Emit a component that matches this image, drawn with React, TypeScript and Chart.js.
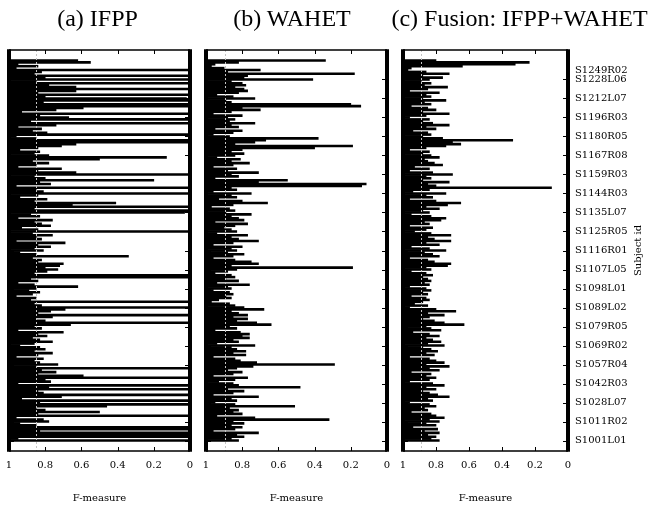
import React, { useEffect, useRef } from 'react';
import { Chart, registerables } from 'chart.js';

Chart.register(...registerables);

// Subject tick labels (top to bottom) and the bar index each one sits on
const subjectTickLabels = [
  'S1249R02', 'S1228L06', 'S1212L07', 'S1196R03', 'S1180R05', 'S1167R08', 'S1159R03',
  'S1144R03', 'S1135L07', 'S1125R05', 'S1116R01', 'S1107L05', 'S1098L01', 'S1089L02',
  'S1079R05', 'S1069R02', 'S1057R04', 'S1042R03', 'S1028L07', 'S1011R02', 'S1001L01',
];
const subjectTickIndex = [5, 10, 20, 30, 40, 50, 60, 70, 80, 90, 100, 110, 120, 130, 140, 150, 160, 170, 180, 190, 200];

const fMeasureTicks = [0, 0.2, 0.4, 0.6, 0.8, 1];
const fMeasureTickLabels = ['0', '0.2', '0.4', '0.6', '0.8', '1'];

const panelTitles = ['(a) IFPP', '(b) WAHET', '(c) Fusion: IFPP+WAHET'];
const axisTitleX = 'F-measure';
const axisTitleY = 'Subject id';

// F-measure per subject image, listed from the top of the plot (S1249) down to S1001
const ifppValues = [
  0.62, 0.55, 0.95, 0.84, 0.96, 0.00, 0.82, 0.86, 0.00, 0.80,
  0.00, 0.85, 0.00, 0.78, 0.63, 0.00, 0.63, 0.84, 0.00, 0.80,
  0.02, 0.00, 0.81, 0.00, 0.00, 0.59, 0.74, 0.93, 0.00, 0.83,
  0.67, 0.00, 0.88, 0.00, 0.74, 0.95, 0.82, 0.87, 0.79, 0.00,
  0.96, 0.85, 0.00, 0.00, 0.63, 0.71, 0.84, 0.94, 0.83, 0.86,
  0.78, 0.13, 0.50, 0.87, 0.78, 0.85, 0.95, 0.71, 0.84, 0.63,
  0.00, 0.86, 0.80, 0.20, 0.83, 0.77, 0.96, 0.00, 0.85, 0.81,
  0.00, 0.84, 0.94, 0.79, 0.86, 0.41, 0.65, 0.00, 0.86, 0.00,
  0.03, 0.88, 0.83, 0.95, 0.76, 0.86, 0.82, 0.77, 0.93, 0.84,
  0.00, 0.87, 0.76, 0.85, 0.82, 0.96, 0.69, 0.84, 0.77, 0.86,
  0.81, 0.94, 0.85, 0.34, 0.87, 0.82, 0.84, 0.70, 0.72, 0.80,
  0.73, 0.79, 0.86, 0.00, 0.00, 0.88, 0.84, 0.95, 0.86, 0.62,
  0.85, 0.89, 0.83, 0.87, 0.96, 0.85, 0.88, 0.00, 0.86, 0.82,
  0.00, 0.69, 0.77, 0.84, 0.00, 0.76, 0.85, 0.80, 0.00, 0.66,
  0.86, 0.82, 0.95, 0.70, 0.84, 0.79, 0.87, 0.83, 0.76, 0.86,
  0.94, 0.83, 0.80, 0.86, 0.76, 0.84, 0.96, 0.81, 0.86, 0.83,
  0.73, 0.85, 0.00, 0.82, 0.74, 0.84, 0.59, 0.00, 0.80, 0.77,
  0.95, 0.00, 0.78, 0.00, 0.84, 0.81, 0.00, 0.71, 0.93, 0.00,
  0.83, 0.00, 0.46, 0.85, 0.80, 0.50, 0.84, 0.00, 0.96, 0.81,
  0.78, 0.94, 0.85, 0.00, 0.00, 0.83, 0.00, 0.00, 0.00, 0.95,
  0.00,
];

const wahetValues = [
  0.34, 0.82, 0.95, 0.97, 0.90, 0.70, 0.88, 0.18, 0.77, 0.79,
  0.41, 0.86, 0.80, 0.78, 0.84, 0.79, 0.77, 0.82, 0.94, 0.85,
  0.73, 0.89, 0.86, 0.20, 0.145, 0.80, 0.70, 0.86, 0.96, 0.80,
  0.88, 0.84, 0.87, 0.73, 0.86, 0.82, 0.95, 0.80, 0.85, 0.96,
  0.87, 0.38, 0.67, 0.73, 0.84, 0.19, 0.40, 0.80, 0.86, 0.79,
  0.84, 0.94, 0.81, 0.86, 0.76, 0.85, 0.96, 0.83, 0.88, 0.71,
  0.86, 0.82, 0.95, 0.55, 0.71, 0.115, 0.14, 0.86, 0.83, 0.96,
  0.75, 0.86, 0.83, 0.93, 0.80, 0.66, 0.85, 0.97, 0.87, 0.84,
  0.89, 0.75, 0.86, 0.82, 0.79, 0.95, 0.77, 0.84, 0.90, 0.86,
  0.83, 0.94, 0.77, 0.86, 0.82, 0.71, 0.85, 0.96, 0.80, 0.86,
  0.83, 0.88, 0.79, 0.85, 0.96, 0.84, 0.75, 0.71, 0.86, 0.19,
  0.83, 0.88, 0.95, 0.86, 0.84, 0.89, 0.82, 0.94, 0.76, 0.88,
  0.86, 0.96, 0.87, 0.85, 0.89, 0.86, 0.93, 0.97, 0.87, 0.84,
  0.79, 0.68, 0.86, 0.82, 0.77, 0.85, 0.77, 0.83, 0.72, 0.64,
  0.87, 0.83, 0.95, 0.81, 0.76, 0.80, 0.76, 0.85, 0.82, 0.94,
  0.73, 0.86, 0.83, 0.78, 0.85, 0.78, 0.96, 0.84, 0.81, 0.72,
  0.29, 0.74, 0.83, 0.88, 0.80, 0.85, 0.96, 0.77, 0.84, 0.93,
  0.85, 0.82, 0.48, 0.88, 0.79, 0.85, 0.96, 0.71, 0.86, 0.83,
  0.95, 0.84, 0.51, 0.87, 0.82, 0.85, 0.80, 0.94, 0.73, 0.32,
  0.85, 0.79, 0.86, 0.80, 0.84, 0.96, 0.71, 0.83, 0.79, 0.86,
  0.82,
];

const fusionValues = [
  0.80, 0.235, 0.32, 0.64, 0.95, 0.97, 0.86, 0.72, 0.88, 0.76,
  0.84, 0.89, 0.83, 0.87, 0.73, 0.85, 0.96, 0.78, 0.86, 0.83,
  0.88, 0.74, 0.87, 0.83, 0.95, 0.85, 0.80, 0.88, 0.72, 0.86,
  0.96, 0.84, 0.88, 0.82, 0.72, 0.86, 0.80, 0.94, 0.85, 0.83,
  0.88, 0.76, 0.335, 0.70, 0.65, 0.74, 0.86, 0.96, 0.84, 0.88,
  0.83, 0.78, 0.87, 0.85, 0.81, 0.76, 0.93, 0.84, 0.96, 0.82,
  0.70, 0.86, 0.83, 0.88, 0.72, 0.85, 0.80, 0.10, 0.84, 0.94,
  0.74, 0.86, 0.82, 0.96, 0.80, 0.65, 0.73, 0.86, 0.78, 0.88,
  0.84, 0.95, 0.83, 0.74, 0.77, 0.87, 0.84, 0.96, 0.82, 0.86,
  0.93, 0.83, 0.71, 0.85, 0.81, 0.71, 0.86, 0.78, 0.95, 0.84,
  0.74, 0.87, 0.82, 0.78, 0.96, 0.85, 0.81, 0.71, 0.73, 0.86,
  0.83, 0.95, 0.86, 0.82, 0.88, 0.85, 0.83, 0.87, 0.84, 0.96,
  0.86, 0.83, 0.88, 0.85, 0.95, 0.86, 0.84, 0.88, 0.93, 0.85,
  0.96, 0.80, 0.68, 0.85, 0.75, 0.84, 0.88, 0.81, 0.75, 0.63,
  0.86, 0.83, 0.77, 0.94, 0.84, 0.78, 0.86, 0.82, 0.77, 0.85,
  0.75, 0.88, 0.83, 0.79, 0.86, 0.81, 0.96, 0.84, 0.80, 0.75,
  0.86, 0.72, 0.84, 0.78, 0.95, 0.83, 0.86, 0.80, 0.84, 0.96,
  0.82, 0.75, 0.86, 0.80, 0.88, 0.84, 0.79, 0.72, 0.85, 0.82,
  0.96, 0.84, 0.80, 0.87, 0.85, 0.95, 0.83, 0.80, 0.75, 0.84,
  0.78, 0.86, 0.80, 0.94, 0.79, 0.87, 0.78, 0.85, 0.80, 0.83,
  0.78,
];

const meanIfpp = 0.85;
const meanWahet = 0.895;
const meanFusion = 0.89;

const SERIF = '"DejaVu Serif", serif';

function makeFramePlugin(mean: number, drawYTitle: boolean) {
  return {
    id: 'panelFrame',
    afterDatasetsDraw(chart: any) {
      const { ctx, chartArea, scales } = chart;
      const { left, right, top, bottom } = chartArea;
      const x = scales.x;
      const y = scales.y;
      ctx.save();
      // mean line (dotted)
      const mx = Math.round(x.getPixelForValue(mean)) + 0.5;
      ctx.strokeStyle = '#c4c4c4';
      ctx.lineWidth = 1;
      ctx.setLineDash([2, 2]);
      ctx.beginPath();
      ctx.moveTo(mx, top);
      ctx.lineTo(mx, bottom);
      ctx.stroke();
      ctx.setLineDash([]);
      // inward tick marks
      ctx.strokeStyle = '#000';
      ctx.lineWidth = 1;
      ctx.beginPath();
      for (const t of fMeasureTicks) {
        const px = Math.round(x.getPixelForValue(t)) + 0.5;
        ctx.moveTo(px, top);
        ctx.lineTo(px, top + 4);
        ctx.moveTo(px, bottom);
        ctx.lineTo(px, bottom - 4);
      }
      for (const idx of subjectTickIndex.slice(1)) {
        const py = Math.round(y.getPixelForValue(idx)) + 0.5;
        ctx.moveTo(left, py);
        ctx.lineTo(left + 5, py);
        ctx.moveTo(right, py);
        ctx.lineTo(right - 5, py);
      }
      ctx.stroke();
      // frame
      ctx.lineWidth = 1.5;
      ctx.beginPath();
      ctx.moveTo(left, top);
      ctx.lineTo(right, top);
      ctx.moveTo(left, bottom);
      ctx.lineTo(right, bottom);
      ctx.stroke();
      ctx.lineWidth = 4;
      ctx.beginPath();
      ctx.moveTo(left, top - 0.75);
      ctx.lineTo(left, bottom + 0.75);
      ctx.moveTo(right, top - 0.75);
      ctx.lineTo(right, bottom + 0.75);
      ctx.stroke();
      if (drawYTitle) {
        ctx.translate(right + 70, (top + bottom) / 2);
        ctx.rotate(-Math.PI / 2);
        ctx.fillStyle = '#000';
        ctx.font = '10px ' + SERIF;
        ctx.textAlign = 'center';
        ctx.textBaseline = 'middle';
        ctx.fillText(axisTitleY, 0, 0);
      }
      ctx.restore();
    },
  };
}

type PanelProps = {
  values: number[];
  mean: number;
  left: number;
  width: number;
  padLeft: number;
  padRight: number;
  showLabels: boolean;
};

function Panel({ values, mean, left, width, padLeft, padRight, showLabels }: PanelProps) {
  const ref = useRef<HTMLCanvasElement | null>(null);
  useEffect(() => {
    if (!ref.current) return;
    const chart = new Chart(ref.current, {
      type: 'bar',
      data: {
        datasets: [
          {
            data: values.map((v, i) => ({ x: [v, 1], y: i })) as any,
            backgroundColor: '#000',
            borderWidth: 0,
            barPercentage: 1,
            categoryPercentage: 1,
          },
        ],
      },
      options: {
        indexAxis: 'y',
        animation: false,
        responsive: false,
        events: [],
        layout: { padding: { left: padLeft, right: padRight, top: 50, bottom: 0 } },
        plugins: { legend: { display: false }, tooltip: { enabled: false }, title: { display: false } },
        scales: {
          x: {
            type: 'linear',
            min: 0,
            max: 1,
            reverse: true,
            grid: { display: false, drawTicks: false },
            border: { display: false },
            afterBuildTicks: (s: any) => {
              s.ticks = fMeasureTicks.map((v) => ({ value: v }));
            },
            ticks: {
              padding: 8,
              color: '#000',
              autoSkip: false,
              maxRotation: 0,
              font: { family: SERIF, size: 10 },
              callback: (_v: any, idx: number) => fMeasureTickLabels[idx],
            },
            title: {
              display: true,
              text: axisTitleX,
              color: '#000',
              font: { family: SERIF, size: 10 },
              padding: { top: 0, bottom: 1 },
            },
            afterFit: (s: any) => {
              s.height = 54;
            },
          },
          y: {
            type: 'linear',
            min: -0.5,
            max: values.length - 0.5,
            reverse: true,
            position: 'right',
            display: showLabels,
            grid: { display: false, drawTicks: false },
            border: { display: false },
            afterBuildTicks: (s: any) => {
              s.ticks = subjectTickIndex.map((v) => ({ value: v }));
            },
            ticks: {
              padding: 7,
              color: '#000',
              autoSkip: false,
              font: { family: SERIF, size: 10 },
              callback: (_v: any, idx: number) => subjectTickLabels[idx],
            },
            afterFit: (s: any) => {
              s.width = showLabels ? 93 : 0;
            },
          },
        },
      } as any,
      plugins: [makeFramePlugin(mean, showLabels)],
    });
    return () => chart.destroy();
  }, []);
  return (
    <canvas
      ref={ref}
      width={width}
      height={505}
      style={{ position: 'absolute', left, top: 0, width, height: 505 }}
    />
  );
}

const titleStyle = (left: number, width: number): React.CSSProperties => ({
  position: 'absolute',
  left,
  top: 6,
  width,
  textAlign: 'center',
  fontFamily: '"Liberation Serif", "Times New Roman", serif',
  fontSize: 24,
  lineHeight: '24px',
  color: '#000',
  whiteSpace: 'nowrap',
});

export default function App() {
  return (
    <div style={{ position: 'absolute', left: 0, top: 0, width: 661, height: 505, background: '#fff', overflow: 'hidden' }}>
      <Panel values={ifppValues} mean={meanIfpp} left={0} width={200} padLeft={9} padRight={10} showLabels={false} />
      <Panel values={wahetValues} mean={meanWahet} left={197} width={200} padLeft={9} padRight={10} showLabels={false} />
      <Panel values={fusionValues} mean={meanFusion} left={394} width={267} padLeft={9} padRight={0} showLabels={true} />
      <div style={titleStyle(0, 195)}>{panelTitles[0]}</div>
      <div style={titleStyle(192, 200)}>{panelTitles[1]}</div>
      <div style={titleStyle(390, 259)}>{panelTitles[2]}</div>
    </div>
  );
}
